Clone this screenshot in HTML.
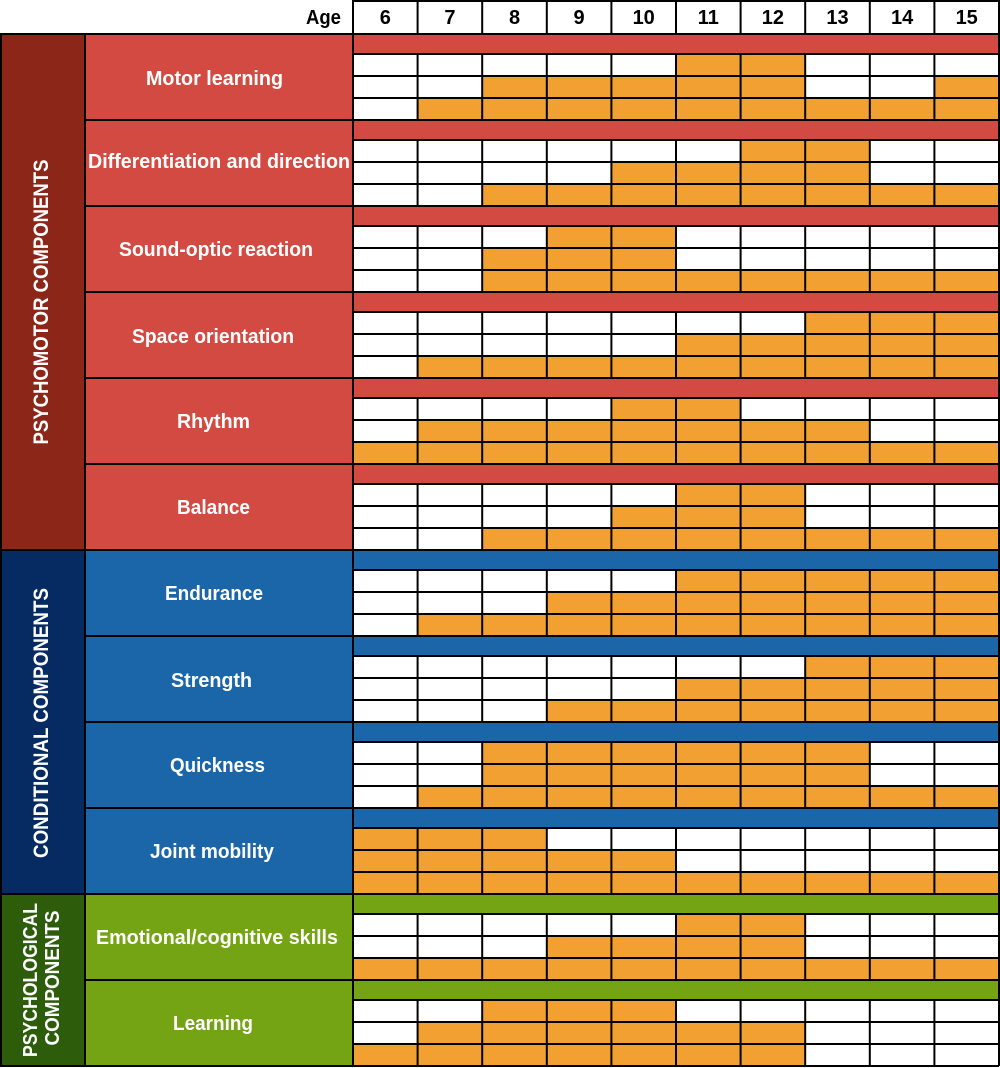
<!DOCTYPE html>
<html>
<head>
<meta charset="utf-8">
<style>
html,body{margin:0;padding:0;background:#fff;}
svg{display:block;}
text{font-family:"Liberation Sans",Arial,sans-serif;font-weight:bold;}
</style>
</head>
<body>
<svg width="1000" height="1068" viewBox="0 0 1000 1068" xmlns="http://www.w3.org/2000/svg">
<rect x="0" y="0" width="1000" height="1068" fill="#fff"/>

<!-- Header -->
<rect x="353" y="1" width="646" height="33" fill="#fff" stroke="#000" stroke-width="2"/>
<text x="341" y="24" font-size="20" text-anchor="end" fill="#000" textLength="35" lengthAdjust="spacingAndGlyphs">Age</text>
<g font-size="20" text-anchor="middle" fill="#000">
<text x="385.3" y="24">6</text>
<text x="449.9" y="24">7</text>
<text x="514.5" y="24">8</text>
<text x="579.1" y="24">9</text>
<text x="643.7" y="24">10</text>
<text x="708.3" y="24">11</text>
<text x="772.9" y="24">12</text>
<text x="837.5" y="24">13</text>
<text x="902.1" y="24">14</text>
<text x="966.7" y="24">15</text>
</g>

<!-- Left outer sections -->
<rect x="1" y="34" width="84" height="516" fill="#8C2619" stroke="#000" stroke-width="2"/>
<rect x="1" y="550" width="84" height="344" fill="#052B62" stroke="#000" stroke-width="2"/>
<rect x="1" y="894" width="84" height="172" fill="#2D5D0B" stroke="#000" stroke-width="2"/>

<!-- Label column -->
<g stroke="#000" stroke-width="2">
<rect x="85" y="34" width="268" height="86" fill="#D34A42"/>
<rect x="85" y="120" width="268" height="86" fill="#D34A42"/>
<rect x="85" y="206" width="268" height="86" fill="#D34A42"/>
<rect x="85" y="292" width="268" height="86" fill="#D34A42"/>
<rect x="85" y="378" width="268" height="86" fill="#D34A42"/>
<rect x="85" y="464" width="268" height="86" fill="#D34A42"/>
<rect x="85" y="550" width="268" height="86" fill="#1B65A9"/>
<rect x="85" y="636" width="268" height="86" fill="#1B65A9"/>
<rect x="85" y="722" width="268" height="86" fill="#1B65A9"/>
<rect x="85" y="808" width="268" height="86" fill="#1B65A9"/>
<rect x="85" y="894" width="268" height="86" fill="#74A314"/>
<rect x="85" y="980" width="268" height="86" fill="#74A314"/>
</g>

<!-- Orange cells -->
<g fill="#F3A033">
<rect x="676" y="54" width="129.2" height="22"/>
<rect x="482.2" y="76" width="323" height="22"/>
<rect x="934.4" y="76" width="64.6" height="22"/>
<rect x="417.6" y="98" width="581.4" height="22"/>

<rect x="740.6" y="140" width="129.2" height="22"/>
<rect x="611.4" y="162" width="258.4" height="22"/>
<rect x="482.2" y="184" width="516.8" height="22"/>

<rect x="546.8" y="226" width="129.2" height="22"/>
<rect x="482.2" y="248" width="193.8" height="22"/>
<rect x="482.2" y="270" width="516.8" height="22"/>

<rect x="805.2" y="312" width="193.8" height="22"/>
<rect x="676" y="334" width="323" height="22"/>
<rect x="417.6" y="356" width="581.4" height="22"/>

<rect x="611.4" y="398" width="129.2" height="22"/>
<rect x="417.6" y="420" width="452.2" height="22"/>
<rect x="353" y="442" width="646" height="22"/>

<rect x="676" y="484" width="129.2" height="22"/>
<rect x="611.4" y="506" width="193.8" height="22"/>
<rect x="482.2" y="528" width="516.8" height="22"/>

<rect x="676" y="570" width="323" height="22"/>
<rect x="546.8" y="592" width="452.2" height="22"/>
<rect x="417.6" y="614" width="581.4" height="22"/>

<rect x="805.2" y="656" width="193.8" height="22"/>
<rect x="676" y="678" width="323" height="22"/>
<rect x="546.8" y="700" width="452.2" height="22"/>

<rect x="482.2" y="742" width="387.6" height="22"/>
<rect x="482.2" y="764" width="387.6" height="22"/>
<rect x="417.6" y="786" width="581.4" height="22"/>

<rect x="353" y="828" width="193.8" height="22"/>
<rect x="353" y="850" width="323" height="22"/>
<rect x="353" y="872" width="646" height="22"/>

<rect x="676" y="914" width="129.2" height="22"/>
<rect x="546.8" y="936" width="258.4" height="22"/>
<rect x="353" y="958" width="646" height="22"/>

<rect x="482.2" y="1000" width="193.8" height="22"/>
<rect x="417.6" y="1022" width="387.6" height="22"/>
<rect x="353" y="1044" width="452.2" height="22"/>
</g>

<!-- Grid lines -->
<path fill="none" stroke="#000" stroke-width="2" d="
M353 1V1066 M417.6 1V1066 M482.2 1V1066 M546.8 1V1066 M611.4 1V1066 M676 1V1066 M740.6 1V1066 M805.2 1V1066 M869.8 1V1066 M934.4 1V1066 M999 1V1066
M353 76H999 M353 98H999
M353 162H999 M353 184H999
M353 248H999 M353 270H999
M353 334H999 M353 356H999
M353 420H999 M353 442H999
M353 506H999 M353 528H999
M353 592H999 M353 614H999
M353 678H999 M353 700H999
M353 764H999 M353 786H999
M353 850H999 M353 872H999
M353 936H999 M353 958H999
M353 1022H999 M353 1044H999
M0 1066H999 M1 34V1066
"/>

<!-- Bands -->
<g stroke="#000" stroke-width="2">
<rect x="353" y="34" width="646" height="20" fill="#D34A42"/>
<rect x="353" y="120" width="646" height="20" fill="#D34A42"/>
<rect x="353" y="206" width="646" height="20" fill="#D34A42"/>
<rect x="353" y="292" width="646" height="20" fill="#D34A42"/>
<rect x="353" y="378" width="646" height="20" fill="#D34A42"/>
<rect x="353" y="464" width="646" height="20" fill="#D34A42"/>
<rect x="353" y="550" width="646" height="20" fill="#1B65A9"/>
<rect x="353" y="636" width="646" height="20" fill="#1B65A9"/>
<rect x="353" y="722" width="646" height="20" fill="#1B65A9"/>
<rect x="353" y="808" width="646" height="20" fill="#1B65A9"/>
<rect x="353" y="894" width="646" height="20" fill="#74A314"/>
<rect x="353" y="980" width="646" height="20" fill="#74A314"/>
</g>

<!-- Labels -->
<g font-size="20" fill="#fff" text-anchor="middle">
<text x="214.5" y="85" textLength="137" lengthAdjust="spacingAndGlyphs">Motor learning</text>
<text x="219" y="168" textLength="262" lengthAdjust="spacingAndGlyphs">Differentiation and direction</text>
<text x="216" y="256" textLength="194" lengthAdjust="spacingAndGlyphs">Sound-optic reaction</text>
<text x="213" y="343" textLength="162" lengthAdjust="spacingAndGlyphs">Space orientation</text>
<text x="213.5" y="428" textLength="73" lengthAdjust="spacingAndGlyphs">Rhythm</text>
<text x="213.5" y="514" textLength="73" lengthAdjust="spacingAndGlyphs">Balance</text>
<text x="214" y="600" textLength="98" lengthAdjust="spacingAndGlyphs">Endurance</text>
<text x="211.5" y="687" textLength="81" lengthAdjust="spacingAndGlyphs">Strength</text>
<text x="217.5" y="772" textLength="95" lengthAdjust="spacingAndGlyphs">Quickness</text>
<text x="212" y="858" textLength="124" lengthAdjust="spacingAndGlyphs">Joint mobility</text>
<text x="217" y="944" textLength="242" lengthAdjust="spacingAndGlyphs">Emotional/cognitive skills</text>
<text x="213" y="1030" textLength="80" lengthAdjust="spacingAndGlyphs">Learning</text>
</g>

<!-- Vertical section titles -->
<g fill="#fff" text-anchor="middle">
<text transform="translate(48,302) rotate(-90)" x="0" y="0" font-size="21" textLength="285" lengthAdjust="spacingAndGlyphs">PSYCHOMOTOR COMPONENTS</text>
<text transform="translate(48,723) rotate(-90)" x="0" y="0" font-size="21" textLength="270" lengthAdjust="spacingAndGlyphs">CONDITIONAL COMPONENTS</text>
<text transform="translate(37,980) rotate(-90)" x="0" y="0" font-size="20" textLength="154" lengthAdjust="spacingAndGlyphs">PSYCHOLOGICAL</text>
<text transform="translate(59,978) rotate(-90)" x="0" y="0" font-size="20" textLength="135" lengthAdjust="spacingAndGlyphs">COMPONENTS</text>
</g>
</svg>
</body>
</html>
